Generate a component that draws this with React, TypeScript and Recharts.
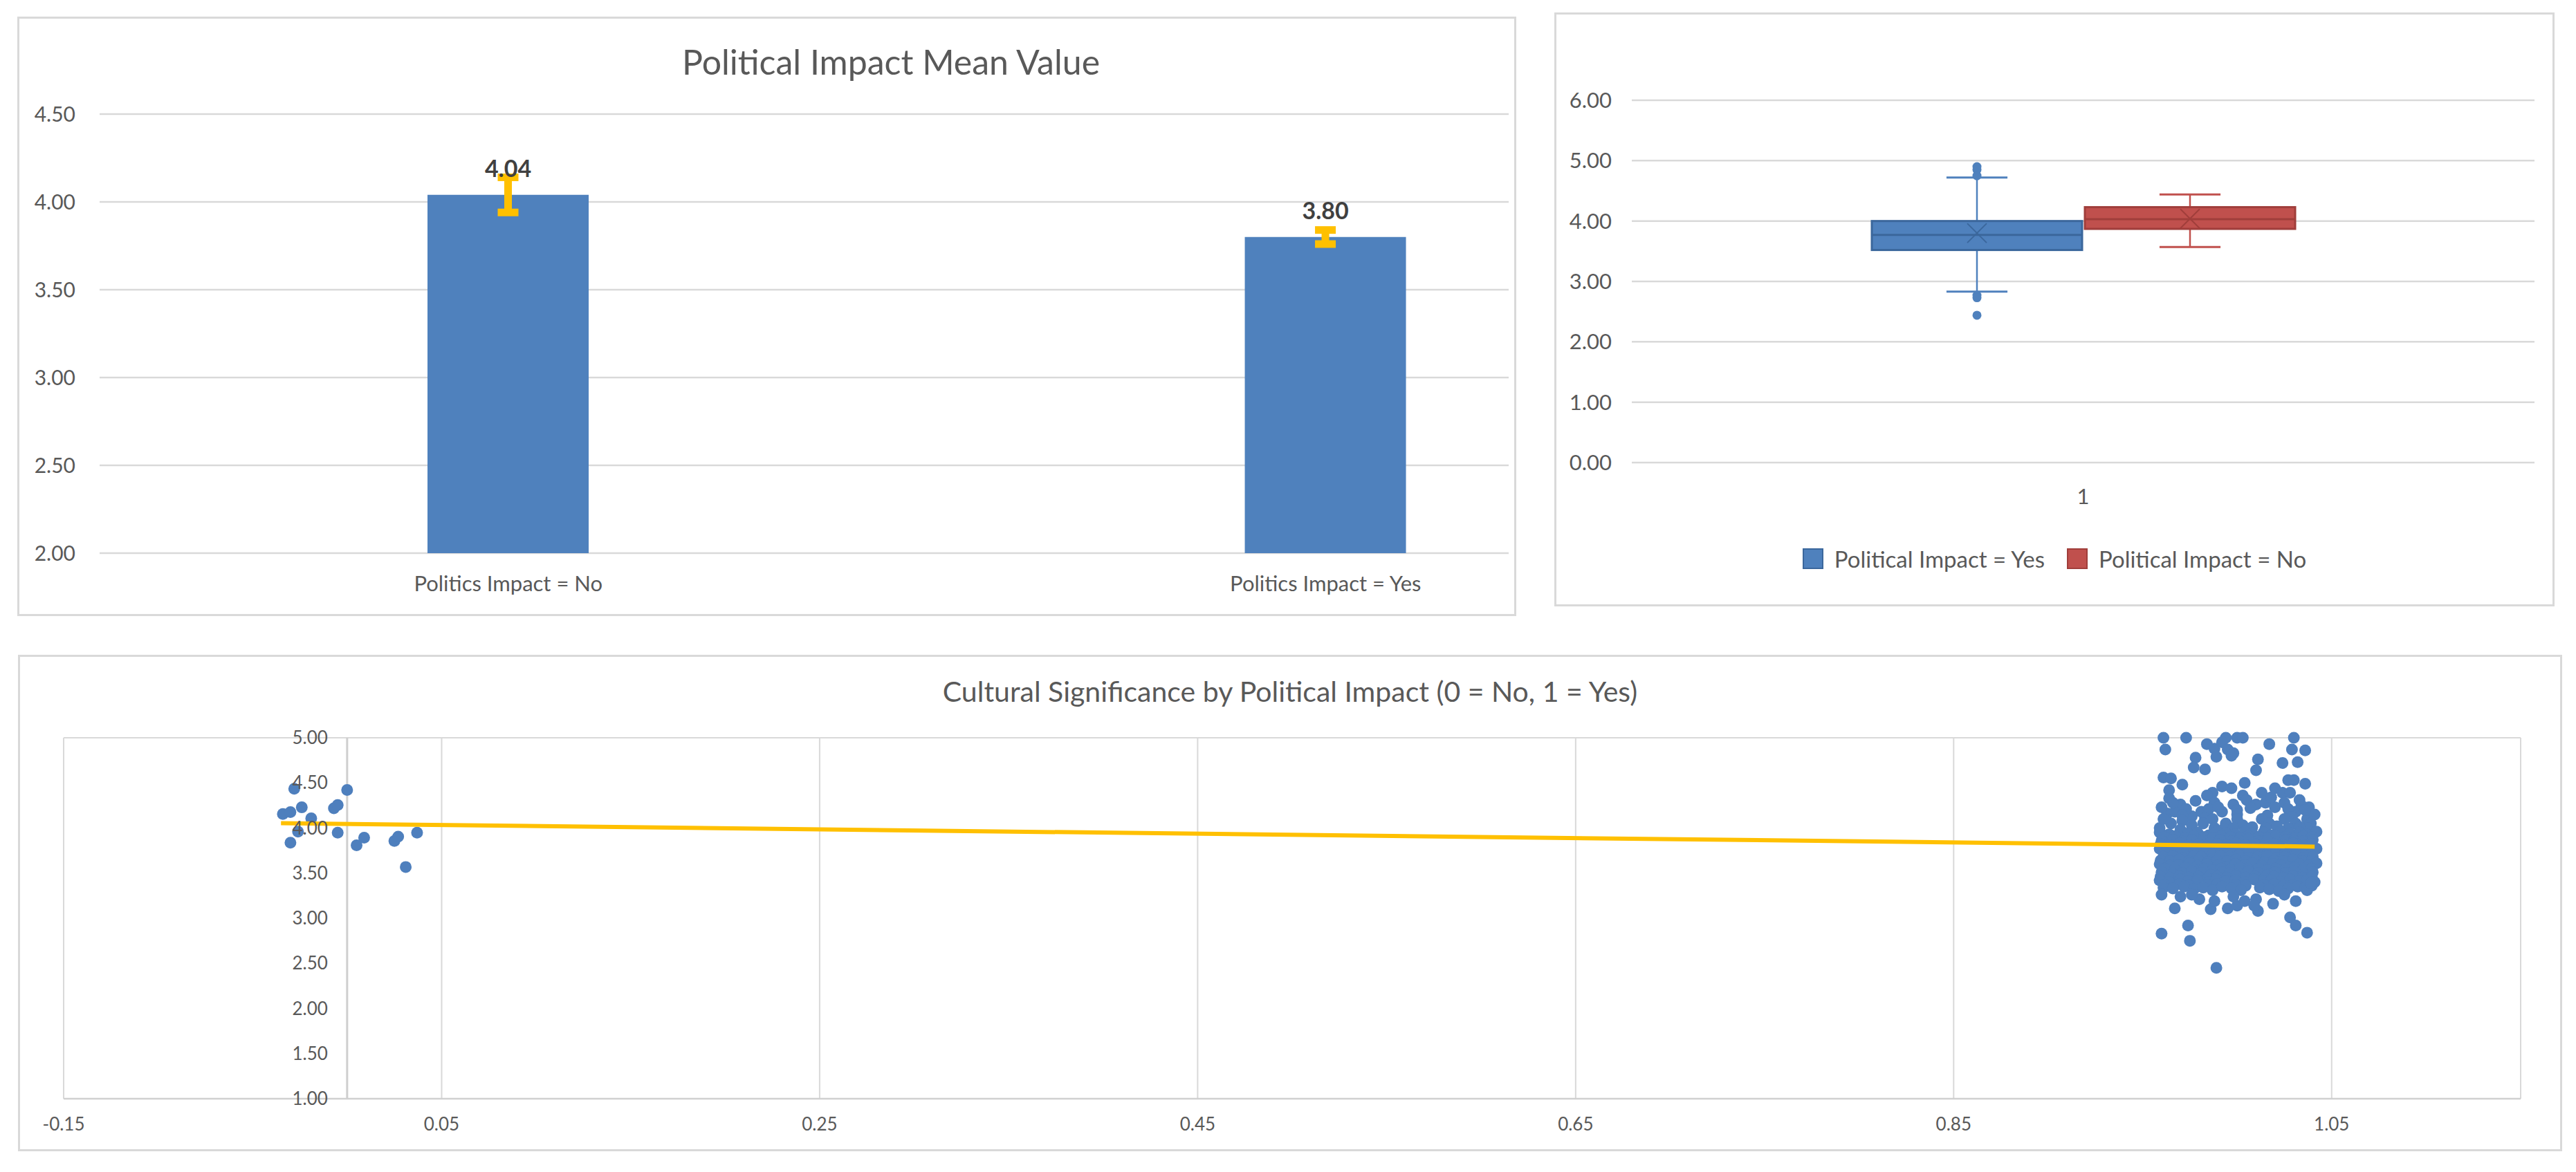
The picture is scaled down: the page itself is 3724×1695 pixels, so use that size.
import React from "react";
import {
  Bar,
  BarChart,
  CartesianGrid,
  ComposedChart,
  ErrorBar,
  LabelList,
  Legend,
  ReferenceDot,
  ReferenceLine,
  Scatter,
  ScatterChart,
  XAxis,
  YAxis,
} from "recharts";

const FONT = "Lato, 'Open Sans', sans-serif";
const TEXT = "#595959";
const GRID = "#D9D9D9";
const BLUE = "#4F81BD";
const BLUE_EDGE = "#3B679C";
const RED = "#C0504D";
const RED_EDGE = "#A03E3B";
const GOLD = "#FFC000";

// --- top left: mean value bars ---
const meanGroups = [0, 1];
const meanLabels = ["Politics Impact = No", "Politics Impact = Yes"];
const meanValues = [4.04, 3.8];
const meanErrors = [0.1, 0.04];
const meanTicks = [2, 2.5, 3, 3.5, 4, 4.5];

// --- top right: box plot (min whisker, q1, median, q3, max whisker) ---
const boxNames = ["Political Impact = Yes", "Political Impact = No"];
const yesStats = [2.83, 3.52, 3.77, 4.0, 4.72];
const yesMean = 3.8;
const yesOutliers = [4.9, 4.85, 4.75, 2.77, 2.73, 2.44];
const noStats = [3.57, 3.87, 4.03, 4.23, 4.44];
const noMean = 4.04;
const noOutliers: number[] = [];
const boxTicks = [0, 1, 2, 3, 4, 5, 6];

// --- bottom: jittered scatter ---
const scatterXTicks = [-0.15, 0.05, 0.25, 0.45, 0.65, 0.85, 1.05];
const scatterYTicks = [1, 1.5, 2, 2.5, 3, 3.5, 4, 4.5, 5];
const trendX = [-0.035, 1.041];
const trendY = [4.054, 3.794];

const noPoints: [number, number][] = [
  [-0.034, 4.155], [-0.03, 4.177], [-0.028, 4.435], [-0.024, 4.229], [-0.019, 4.107],
  [-0.03, 3.838], [-0.026, 3.959], [-0.007, 4.218], [-0.005, 4.255], [0.0, 4.421],
  [-0.005, 3.948], [0.005, 3.808], [0.009, 3.893], [0.025, 3.856], [0.027, 3.904],
  [0.031, 3.568], [0.037, 3.948],
];

const yesPoints: [number, number][] = [
  // sparse top
  [0.961, 5.0], [0.973, 5.0], [0.994, 5.0], [1.0, 5.0], [1.003, 5.0], [1.03, 5.0],
  [0.962, 4.87], [0.984, 4.93], [0.988, 4.88], [0.992, 4.95], [0.995, 4.87], [0.998, 4.83],
  [0.997, 4.8], [0.989, 4.79], [1.017, 4.93], [1.029, 4.87], [1.036, 4.86], [1.032, 4.73],
  [1.024, 4.72], [1.011, 4.76], [1.01, 4.64], [0.978, 4.78], [0.977, 4.67], [0.983, 4.65],
  [0.961, 4.56], [0.965, 4.55], [0.971, 4.48], [0.964, 4.42], [1.004, 4.5], [1.027, 4.53],
  [1.03, 4.53], [1.036, 4.49],
  // upper middle
  [0.992, 4.46], [0.987, 4.39], [0.984, 4.36], [0.997, 4.44], [1.003, 4.36], [1.013, 4.39],
  [1.02, 4.44], [1.024, 4.39], [1.028, 4.39], [1.033, 4.31], [1.038, 4.23], [0.964, 4.33],
  [0.97, 4.26], [0.963, 4.16], [0.967, 4.18], [0.976, 4.13], [0.981, 4.18], [0.992, 4.18],
  [0.998, 4.26], [1.005, 4.31], [1.01, 4.26], [1.015, 4.28], [1.02, 4.23], [1.025, 4.28],
  [1.031, 4.18], [1.037, 4.1], [1.039, 4.05], [0.988, 4.28], [0.985, 4.21],
  [0.973, 4.21], [0.978, 4.3], [1.0, 4.2], [1.007, 4.22], [1.018, 4.34], [1.027, 4.21],
  [1.034, 4.25], [1.041, 4.15], [0.96, 4.23], [0.966, 4.28], [0.99, 4.23], [1.0, 4.15],
  [1.016, 4.14], [1.029, 4.12], [0.983, 4.11], [0.971, 4.14], [1.036, 4.2],
  [0.959, 4.0], [0.965, 4.05], [0.971, 4.08], [0.976, 4.03], [0.982, 4.05], [0.987, 4.1],
  [0.994, 4.05], [1.0, 4.1], [1.013, 4.1], [1.017, 4.05], [1.025, 4.1], [1.031, 4.05],
  [1.037, 4.0], [1.041, 3.95], [1.003, 4.03], [1.015, 4.0], [1.027, 4.0], [0.988, 4.0],
  [0.97, 3.98], [0.961, 4.1], [1.008, 4.01], [1.021, 4.02], [0.993, 3.99], [0.998, 4.0],
  [1.033, 4.01],
  // dense core
  [0.959, 3.95], [0.964, 3.93], [0.97, 3.96], [0.974, 3.94], [0.979, 3.95], [0.985, 3.92],
  [0.989, 3.96], [0.994, 3.94], [0.999, 3.93], [1.004, 3.96], [1.008, 3.94], [1.014, 3.95],
  [1.018, 3.92], [1.023, 3.96], [1.028, 3.94], [1.033, 3.95], [1.037, 3.93], [1.042, 3.96],
  [0.9615, 3.9], [0.967, 3.91], [0.9725, 3.89], [0.977, 3.91], [0.9825, 3.9], [0.987, 3.89],
  [0.9915, 3.91], [0.9965, 3.9], [1.0015, 3.89], [1.006, 3.91], [1.0115, 3.9], [1.016, 3.89],
  [1.0205, 3.91], [1.0255, 3.9], [1.0305, 3.89], [1.035, 3.91], [1.0395, 3.9],
  [0.96, 3.86], [0.966, 3.87], [0.971, 3.85], [0.976, 3.87], [0.982, 3.86], [0.986, 3.84],
  [0.991, 3.87], [0.997, 3.85], [1.001, 3.86], [1.006, 3.88], [1.011, 3.85], [1.016, 3.86],
  [1.021, 3.84], [1.026, 3.87], [1.03, 3.86], [1.035, 3.85], [1.04, 3.87],
  [0.9595, 3.82], [0.9645, 3.81], [0.9695, 3.83], [0.9745, 3.81], [0.9795, 3.82], [0.9845, 3.8],
  [0.9895, 3.82], [0.9945, 3.81], [0.9995, 3.83], [1.0045, 3.81], [1.0095, 3.82], [1.0145, 3.8],
  [1.0195, 3.82], [1.0245, 3.81], [1.0295, 3.83], [1.0345, 3.81], [1.0395, 3.82],
  [0.959, 3.77], [0.963, 3.76], [0.969, 3.78], [0.974, 3.76], [0.98, 3.77], [0.984, 3.79],
  [0.989, 3.76], [0.994, 3.78], [0.999, 3.77], [1.003, 3.75], [1.009, 3.78], [1.013, 3.76],
  [1.018, 3.77], [1.024, 3.79], [1.028, 3.76], [1.033, 3.78], [1.037, 3.76], [1.042, 3.77],
  [0.9615, 3.72], [0.967, 3.73], [0.9725, 3.71], [0.977, 3.73], [0.9825, 3.72], [0.987, 3.71],
  [0.9915, 3.73], [0.9965, 3.72], [1.0015, 3.71], [1.006, 3.73], [1.0115, 3.72], [1.016, 3.71],
  [1.0205, 3.73], [1.0255, 3.72], [1.0305, 3.71], [1.035, 3.73], [1.0395, 3.72],
  [0.961, 3.68], [0.966, 3.69], [0.971, 3.67], [0.977, 3.69], [0.981, 3.68], [0.987, 3.66],
  [0.991, 3.69], [0.996, 3.68], [1.001, 3.7], [1.006, 3.67], [1.011, 3.68], [1.016, 3.69],
  [1.021, 3.67], [1.025, 3.68], [1.031, 3.7], [1.035, 3.67], [1.04, 3.68],
  [0.9595, 3.64], [0.9645, 3.63], [0.9695, 3.65], [0.9745, 3.63], [0.9795, 3.64], [0.9845, 3.62],
  [0.9895, 3.64], [0.9945, 3.63], [0.9995, 3.65], [1.0045, 3.63], [1.0095, 3.64], [1.0145, 3.62],
  [1.0195, 3.64], [1.0245, 3.63], [1.0295, 3.65], [1.0345, 3.63], [1.0395, 3.64],
  [0.959, 3.6], [0.964, 3.58], [0.969, 3.59], [0.975, 3.61], [0.979, 3.58], [0.984, 3.6],
  [0.99, 3.59], [0.994, 3.57], [0.999, 3.6], [1.004, 3.59], [1.008, 3.61], [1.013, 3.58],
  [1.019, 3.6], [1.023, 3.59], [1.028, 3.57], [1.033, 3.6], [1.038, 3.59], [1.042, 3.61],
  [0.9615, 3.55], [0.967, 3.54], [0.9725, 3.56], [0.977, 3.54], [0.9825, 3.55], [0.987, 3.53],
  [0.9915, 3.55], [0.9965, 3.54], [1.0015, 3.56], [1.006, 3.54], [1.0115, 3.55], [1.016, 3.53],
  [1.0205, 3.55], [1.0255, 3.54], [1.0305, 3.56], [1.035, 3.54], [1.0395, 3.55],
  [0.96, 3.51], [0.966, 3.49], [0.971, 3.5], [0.976, 3.52], [0.981, 3.5], [0.986, 3.48],
  [0.992, 3.51], [0.996, 3.5], [1.001, 3.49], [1.006, 3.52], [1.011, 3.5], [1.016, 3.48],
  [1.02, 3.51], [1.026, 3.5], [1.03, 3.52], [1.035, 3.49], [1.04, 3.51],
  [0.9595, 3.46], [0.9645, 3.45], [0.9695, 3.47], [0.9745, 3.45], [0.9795, 3.46], [0.9845, 3.44],
  [0.9895, 3.46], [0.9945, 3.45], [0.9995, 3.47], [1.0045, 3.45], [1.0095, 3.46], [1.0145, 3.44],
  [1.0195, 3.46], [1.0245, 3.45], [1.0295, 3.47], [1.0345, 3.45], [1.0395, 3.46],
  [0.959, 3.42], [0.964, 3.4], [0.97, 3.43], [0.974, 3.41], [0.979, 3.42], [0.985, 3.4],
  [0.989, 3.43], [0.994, 3.41], [0.999, 3.42], [1.004, 3.4], [1.009, 3.43], [1.014, 3.41],
  [1.018, 3.42], [1.023, 3.4], [1.028, 3.43], [1.033, 3.41], [1.037, 3.42], [1.041, 3.4],
  [0.9615, 3.37], [0.9695, 3.38], [0.9745, 3.36], [0.9845, 3.37], [0.9895, 3.38], [0.9995, 3.37],
  [1.0045, 3.36], [1.0145, 3.37], [1.0195, 3.38], [1.0245, 3.36], [1.0295, 3.37], [1.0395, 3.36],
  [0.961, 3.34], [0.966, 3.33], [0.972, 3.35], [0.977, 3.32], [0.982, 3.34], [0.987, 3.31],
  [0.992, 3.35], [0.997, 3.33], [1.002, 3.31], [1.012, 3.34], [1.017, 3.32], [1.022, 3.3],
  [1.027, 3.33], [1.032, 3.35], [1.036, 3.34],
  // lower fringe
  [0.96, 3.26], [0.967, 3.11], [0.97, 3.24], [0.986, 3.1], [0.988, 3.19], [0.995, 3.11],
  [1.0, 3.14], [1.004, 3.19], [1.01, 3.21], [1.011, 3.08], [1.009, 3.14], [1.019, 3.16],
  [1.025, 3.26], [1.031, 3.19], [1.037, 3.31], [1.039, 3.39], [0.98, 3.21], [0.976, 3.26],
  [0.998, 3.24],
  [1.028, 3.01], [1.031, 2.92], [1.037, 2.84], [0.974, 2.92], [0.975, 2.75], [0.96, 2.83],
  [0.989, 2.45],
];

const meanData = meanGroups.map((g, i) => ({
  group: g,
  mean: meanValues[i],
  err: meanErrors[i],
}));

const boxData = [
  { cat: "1", yes: [yesStats[0], yesStats[4]], no: [noStats[0], noStats[4]] },
];

const noData = noPoints.map(([x, y]) => ({ x, y }));
const yesData = yesPoints.map(([x, y]) => ({ x, y }));
const trendData = trendX.map((x, i) => ({ x, y: trendY[i] }));

const axisTick = (size: number) => ({ fill: TEXT, fontSize: size, fontFamily: FONT });

function makeBoxShape(
  stats: number[],
  mean: number,
  outliers: number[],
  fill: string,
  edge: string
) {
  return (props: any) => {
    const { x, y, width, height } = props;
    const lo = stats[0];
    const hi = stats[4];
    const toY = (v: number) => y + ((hi - v) / (hi - lo)) * height;
    const cx = x + width / 2;
    const cap = width * 0.145;
    const m = 14;
    const my = toY(mean);
    return (
      <g>
        <line x1={cx} x2={cx} y1={toY(stats[3])} y2={toY(hi)} stroke={fill} strokeWidth={2.5} />
        <line x1={cx} x2={cx} y1={toY(stats[1])} y2={toY(lo)} stroke={fill} strokeWidth={2.5} />
        <line x1={cx - cap} x2={cx + cap} y1={toY(hi)} y2={toY(hi)} stroke={fill} strokeWidth={3} />
        <line x1={cx - cap} x2={cx + cap} y1={toY(lo)} y2={toY(lo)} stroke={fill} strokeWidth={3} />
        <rect
          x={x}
          y={toY(stats[3])}
          width={width}
          height={toY(stats[1]) - toY(stats[3])}
          fill={fill}
          stroke={edge}
          strokeWidth={3}
        />
        <line x1={x} x2={x + width} y1={toY(stats[2])} y2={toY(stats[2])} stroke={edge} strokeWidth={3} />
        <line x1={cx - m} x2={cx + m} y1={my - m} y2={my + m} stroke={edge} strokeWidth={2} />
        <line x1={cx - m} x2={cx + m} y1={my + m} y2={my - m} stroke={edge} strokeWidth={2} />
        {outliers.map((v, i) => (
          <circle key={i} cx={cx} cy={toY(v)} r={6.5} fill={fill} />
        ))}
      </g>
    );
  };
}

function BoxLegend({ payload }: any) {
  const items = [...(payload || [])].sort(
    (a: any, b: any) => boxNames.indexOf(a.value) - boxNames.indexOf(b.value)
  );
  return (
    <div style={{ display: "flex", justifyContent: "center", alignItems: "center", gap: 32 }}>
      {items.map((e: any) => (
        <div key={e.value} style={{ display: "flex", alignItems: "center" }}>
          <span
            style={{
              display: "inline-block",
              width: 30,
              height: 30,
              boxSizing: "border-box",
              background: e.color,
              border: `2px solid ${e.color === BLUE ? BLUE_EDGE : RED_EDGE}`,
              marginRight: 16,
            }}
          />
          <span style={{ color: TEXT, fontSize: 33, fontFamily: FONT }}>{e.value}</span>
        </div>
      ))}
    </div>
  );
}

const meanLabel = (p: any) => (
  <text
    x={p.x + p.width / 2}
    y={p.y - 26}
    textAnchor="middle"
    fill="#404040"
    fontSize={34}
    fontWeight={700}
    fontFamily={FONT}
  >
    {Number(p.value).toFixed(2)}
  </text>
);

const dot = (p: any) => <circle cx={p.cx} cy={p.cy} r={8.5} fill="#4E7FBD" />;
const noMarker = () => <g />;

const panel = (left: number, top: number, width: number, height: number): React.CSSProperties => ({
  position: "absolute",
  left,
  top,
  width,
  height,
  boxSizing: "border-box",
  border: `3px solid ${GRID}`,
});

const at = (left: number, top: number): React.CSSProperties => ({ position: "absolute", left, top });

export default function App() {
  return (
    <div
      style={{
        position: "fixed",
        left: 0,
        top: 0,
        width: 3724,
        height: 1695,
        background: "#fff",
        overflow: "hidden",
        fontFamily: FONT,
      }}
    >
      <div style={panel(25, 24, 2167, 867)} />
      <div style={panel(2247, 18, 1446, 859)} />
      <div style={panel(26, 947, 3678, 718)} />

      <div
        style={{
          position: "absolute",
          left: 688,
          top: 60,
          width: 1200,
          textAlign: "center",
          color: TEXT,
          fontSize: 50,
          lineHeight: "58px",
        }}
      >
        Political Impact Mean Value
      </div>

      <div style={at(25, 24)}>
        <BarChart width={2167} height={867} data={meanData} margin={{ top: 141, right: 11, bottom: 0, left: 0 }}>
          <CartesianGrid vertical={false} stroke={GRID} strokeWidth={2.5} />
          <XAxis
            dataKey="group"
            type="number"
            domain={[-0.5, 1.224]}
            ticks={meanGroups}
            tickFormatter={(v: number) => meanLabels[v]}
            axisLine={false}
            tickLine={false}
            tickSize={0}
            tickMargin={33}
            height={91}
            tick={axisTick(31)}
          />
          <YAxis
            domain={[2, 4.5]}
            ticks={meanTicks}
            tickFormatter={(v: number) => v.toFixed(2)}
            axisLine={false}
            tickLine={false}
            tickSize={0}
            tickMargin={35}
            width={119}
            tick={axisTick(30)}
          />
          <Bar dataKey="mean" fill={BLUE} barSize={233} isAnimationActive={false}>
            <LabelList dataKey="mean" content={meanLabel} />
            <ErrorBar dataKey="err" direction="y" stroke={GOLD} strokeWidth={11} width={15} isAnimationActive={false} />
          </Bar>
        </BarChart>
      </div>

      <div style={at(2247, 18)}>
        <ComposedChart width={1446} height={859} data={boxData} margin={{ top: 127, right: 29, bottom: 0, left: 0 }}>
          <CartesianGrid vertical={false} stroke={GRID} strokeWidth={2.5} />
          <XAxis
            dataKey="cat"
            axisLine={false}
            tickLine={false}
            tickSize={0}
            tickMargin={38}
            height={208}
            tick={axisTick(31)}
          />
          <YAxis
            domain={[0, 6]}
            ticks={boxTicks}
            tickFormatter={(v: number) => v.toFixed(2)}
            axisLine={false}
            tickLine={false}
            tickSize={0}
            tickMargin={29}
            width={112}
            tick={axisTick(31)}
          />
          <Legend
            layout="horizontal"
            verticalAlign="middle"
            align="center"
            wrapperStyle={{ top: 770, left: 0, width: 1446, height: 34 }}
            content={BoxLegend}
          />
          <Bar
            dataKey={(d: any) => d.yes}
            name={boxNames[0]}
            fill={BLUE}
            barSize={304}
            shape={makeBoxShape(yesStats, yesMean, yesOutliers, BLUE, BLUE_EDGE)}
            isAnimationActive={false}
          />
          <Bar
            dataKey={(d: any) => d.no}
            name={boxNames[1]}
            fill={RED}
            barSize={304}
            shape={makeBoxShape(noStats, noMean, noOutliers, RED, RED_EDGE)}
            isAnimationActive={false}
          />
        </ComposedChart>
      </div>

      <div
        style={{
          position: "absolute",
          left: 26,
          top: 976,
          width: 3678,
          textAlign: "center",
          color: TEXT,
          fontSize: 41,
          lineHeight: "48px",
        }}
      >
        Cultural Significance by Political Impact (0 = No, 1 = Yes)
      </div>

      <div style={at(26, 947)}>
        <ScatterChart width={3678} height={718} margin={{ top: 120, right: 60, bottom: 0, left: 0 }}>
          <CartesianGrid stroke={GRID} strokeWidth={2} />
          <XAxis
            dataKey="x"
            type="number"
            domain={[-0.15, 1.15]}
            ticks={scatterXTicks}
            tickFormatter={(v: number) => v.toFixed(2)}
            axisLine={{ stroke: "#D0D0D0", strokeWidth: 2.5 }}
            tickLine={false}
            tickSize={0}
            tickMargin={28}
            height={76}
            tick={axisTick(26)}
          />
          <YAxis
            dataKey="y"
            type="number"
            domain={[1, 5]}
            ticks={scatterYTicks}
            axisLine={false}
            tickLine={false}
            tick={false}
            width={66}
          />
          <ReferenceLine x={0} stroke="#CFCFCF" strokeWidth={3} />
          {scatterYTicks.map((v) => (
            <ReferenceDot
              key={v}
              x={0}
              y={v}
              r={0}
              fill="none"
              stroke="none"
              label={{ value: v.toFixed(2), position: "left", offset: 28, fill: TEXT, fontSize: 26, fontFamily: FONT }}
            />
          ))}
          <Scatter data={noData} shape={dot} isAnimationActive={false} />
          <Scatter data={yesData} shape={dot} isAnimationActive={false} />
          <Scatter
            data={trendData}
            shape={noMarker}
            line={{ stroke: GOLD, strokeWidth: 6 }}
            isAnimationActive={false}
          />
        </ScatterChart>
      </div>
    </div>
  );
}
